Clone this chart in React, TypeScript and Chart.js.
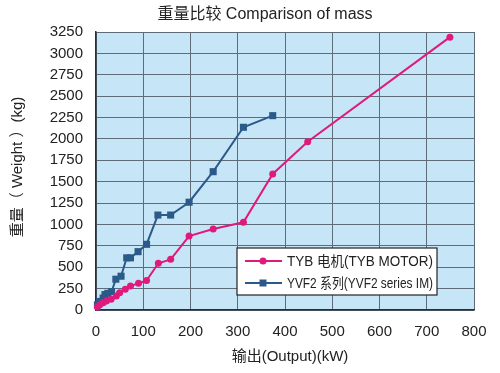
import React, { useEffect, useRef } from "react";
import { Chart, registerables } from "chart.js";

Chart.register(...registerables);

const titleText = "重量比较 Comparison of mass";
const xTitle = "输出(Output)(kW)";
const yTitle = "重量（ Weight ）(kg)";
const tybLabel = "TYB 电机(TYB MOTOR)";
const yvfLabel = "YVF2 系列(YVF2 series IM)";

const tybPower = [3, 8, 15, 22, 32, 43, 50, 62, 73, 90, 107, 132, 158, 197, 248, 312, 374, 448, 749];
const tybWeight = [35, 60, 85, 105, 125, 164, 203, 242, 280, 312, 345, 546, 592, 865, 947, 1025, 1590, 1968, 3190];

const yvfPower = [3, 8, 15, 19, 25, 33, 42, 53, 65, 73, 89, 107, 131, 158, 197, 248, 312, 374];
const yvfWeight = [60, 100, 140, 180, 195, 215, 360, 395, 610, 610, 682, 768, 1110, 1110, 1260, 1617, 2136, 2272];

const xTicks = [0, 100, 200, 300, 400, 500, 600, 700, 800];
const yTicks = [0, 250, 500, 750, 1000, 1250, 1500, 1750, 2000, 2250, 2500, 2750, 3000, 3250];

const FONT = '"Liberation Sans", "Noto Sans CJK SC", Arial, sans-serif';
const PINK = "#e0197d";
const BLUE = "#2c5a88";

function fitText(ctx: CanvasRenderingContext2D, text: string, x: number, y: number, w: number) {
  const m = ctx.measureText(text).width;
  const s = Math.min(1, w / m);
  ctx.save();
  ctx.translate(x, y);
  ctx.scale(s, 1);
  ctx.fillText(text, 0, 0);
  ctx.restore();
}

const decorPlugin = {
  id: "decor",
  beforeDraw(chart: any) {
    const { ctx, chartArea: a, width, height } = chart;
    ctx.save();
    ctx.fillStyle = "#ffffff";
    ctx.fillRect(0, 0, width, height);
    ctx.fillStyle = "#c6e6f8";
    ctx.fillRect(a.left, a.top, a.right - a.left, a.bottom - a.top);
    ctx.restore();
  },
  afterDraw(chart: any) {
    const { ctx } = chart;
    ctx.save();
    ctx.fillStyle = "#222";
    ctx.textAlign = "center";
    ctx.textBaseline = "middle";
    ctx.font = `16px ${FONT}`;
    ctx.fillText(titleText, 265, 15);
    ctx.font = `15px ${FONT}`;
    ctx.fillText(xTitle, 290, 357);
    ctx.save();
    ctx.translate(18, 167);
    ctx.rotate(-Math.PI / 2);
    ctx.font = `15px ${FONT}`;
    ctx.fillText(yTitle, 0, 0);
    ctx.restore();

    // legend box
    const lx = 237, ly = 248, lw = 200, lh = 47;
    ctx.fillStyle = "#ffffff";
    ctx.fillRect(lx, ly, lw, lh);
    ctx.strokeStyle = "#222";
    ctx.lineWidth = 1.2;
    ctx.strokeRect(lx, ly, lw, lh);
    const rows = [
      { label: tybLabel, color: PINK, y: ly + 13, shape: "circle" },
      { label: yvfLabel, color: BLUE, y: ly + 35, shape: "rect" },
    ];
    for (const r of rows) {
      ctx.strokeStyle = r.color;
      ctx.lineWidth = 2;
      ctx.beginPath();
      ctx.moveTo(lx + 8, r.y);
      ctx.lineTo(lx + 45, r.y);
      ctx.stroke();
      ctx.fillStyle = r.color;
      if (r.shape === "circle") {
        ctx.beginPath();
        ctx.arc(lx + 26, r.y, 3.5, 0, Math.PI * 2);
        ctx.fill();
      } else {
        ctx.fillRect(lx + 26 - 3.5, r.y - 3.5, 7, 7);
      }
      ctx.fillStyle = "#222";
      ctx.textAlign = "left";
      ctx.font = `14px ${FONT}`;
      fitText(ctx, r.label, lx + 50, r.y + 1, 146);
    }
    ctx.restore();
  },
};

export default function App() {
  const ref = useRef<HTMLCanvasElement | null>(null);
  useEffect(() => {
    if (!ref.current) return;
    const chart = new Chart(ref.current, {
      type: "line",
      data: {
        datasets: [
          {
            label: tybLabel,
            data: tybPower.map((x, i) => ({ x, y: tybWeight[i] })),
            borderColor: PINK,
            backgroundColor: PINK,
            borderWidth: 2,
            pointStyle: "circle",
            pointRadius: 3.5,
            pointBorderWidth: 0,
            clip: false,
          },
          {
            label: yvfLabel,
            data: yvfPower.map((x, i) => ({ x, y: yvfWeight[i] })),
            borderColor: BLUE,
            backgroundColor: BLUE,
            borderWidth: 2,
            pointStyle: "rect",
            pointRadius: 5,
            pointBorderWidth: 0,
            clip: false,
          },
        ],
      },
      options: {
        animation: false,
        responsive: false,
        layout: { padding: { top: 32, right: 26, left: 0, bottom: 0 } },
        plugins: { legend: { display: false }, title: { display: false }, tooltip: { enabled: false } },
        scales: {
          x: {
            type: "linear",
            min: 0,
            max: 800,
            afterBuildTicks: (s: any) => { s.ticks = xTicks.map((v) => ({ value: v })); },
            afterFit: (s: any) => { s.height = 63; },
            ticks: { color: "#222", font: { family: FONT, size: 15 }, padding: 13, maxRotation: 0, callback: (v: any) => String(v) },
            grid: { color: "#5d6c78", lineWidth: 1, drawTicks: false },
            border: { color: "#2a2f35", width: 1.5 },
          },
          y: {
            type: "linear",
            min: 0,
            max: 3250,
            afterBuildTicks: (s: any) => { s.ticks = yTicks.map((v) => ({ value: v })); },
            afterFit: (s: any) => { s.width = 96; },
            ticks: { color: "#222", font: { family: FONT, size: 15 }, padding: 13, callback: (v: any) => String(v) },
            grid: { color: "#5d6c78", lineWidth: 1, drawTicks: false },
            border: { color: "#2a2f35", width: 1.5 },
          },
        },
      },
      plugins: [decorPlugin],
    } as any);
    return () => chart.destroy();
  }, []);
  return (
    <div style={{ position: "absolute", left: 0, top: 0, width: 500, height: 373 }}>
      <canvas ref={ref} width={500} height={373} style={{ width: 500, height: 373 }} />
    </div>
  );
}
